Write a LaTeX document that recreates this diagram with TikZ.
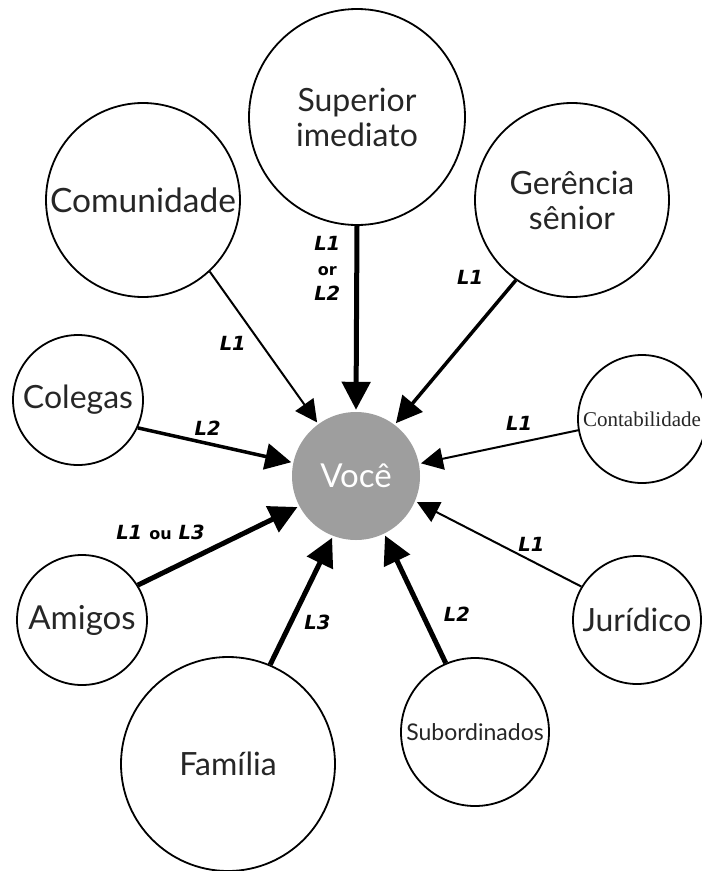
\documentclass[tikz,border=0pt]{standalone}
\usepackage{fontspec}
\setmainfont{Lato}
\newfontfamily\contabfont{Liberation Serif}
\newfontfamily\nivelfont{DejaVu Sans}
\usetikzlibrary{arrows.meta}
\definecolor{vocegray}{RGB}{158,158,158}
\newcommand{\conj}[1]{{\upshape\fontsize{16}{24}\selectfont #1}}
\tikzset{
  pessoa/.style={draw, circle, line width=1.8pt, inner sep=0pt, align=center, text=black!85, font=\fontsize{32}{35}\selectfont},
  voce/.style={circle, fill=vocegray, inner sep=0pt, minimum size=128pt, text=white, font=\fontsize{33}{35}\selectfont},
  linkthin/.style={-{Triangle[length=22pt,width=22pt]}, line width=2pt, shorten >=2pt},
  linkmid/.style={-{Triangle[length=26pt,width=26pt]}, line width=3.5pt, shorten >=2pt},
  linkbold/.style={-{Triangle[length=28pt,width=28pt]}, line width=5pt, shorten >=2pt},
  nivel/.style={font=\nivelfont\bfseries\itshape\fontsize{19.5}{25}\selectfont, inner sep=1pt, align=center}
}

\begin{document}
\begin{tikzpicture}[x=1pt, y=-1pt]
  \useasboundingbox (0,0) rectangle (702,871);
  \node[voce] (voce) at (356,476) {Você};
  \node[pessoa, minimum size=216pt] (superior) at (357,117) {Superior\\imediato};
  \node[pessoa, minimum size=194pt, font=\fontsize{33.5}{35}\selectfont] (comunidade) at (143,200) {Comunidade};
  \node[pessoa, minimum size=194pt] (gerencia) at (572,200) {Gerência\\sênior};
  \node[pessoa, minimum size=130pt] (colegas) at (78,400) {Colegas};
  \node[pessoa, minimum size=128pt, font=\contabfont\fontsize{21}{24}\selectfont] (contabilidade) at (642,419) {Contabilidade};
  \node[pessoa, minimum size=130pt, font=\fontsize{33}{35}\selectfont] (amigos) at (82,620) {Amigos};
  \node[pessoa, minimum size=128pt] (juridico) at (637,620) {Jurídico};
  \node[pessoa, minimum size=214pt] (familia) at (228,764) {Família};
  \node[pessoa, minimum size=148pt, font=\fontsize{23}{26}\selectfont] (subordinados) at (475,732) {Subordinados};

  \draw[linkbold] (superior.-90) -- node[nivel, pos=.23, left=13pt] {L1\\\conj{or}\\L2} (voce.90);
  \draw[linkthin] (comunidade.-47) -- node[nivel, pos=.47, left=13pt] {L1} (voce.126);
  \draw[linkmid] (gerencia.-125) -- node[nivel, pos=.14, left=13pt, yshift=23pt] {L1} (voce.53);
  \draw[linkmid] (colegas.-25) -- node[nivel, pos=.45, above=5pt] {L2} (voce.168);
  \draw[linkthin] (contabilidade.190) -- node[nivel, pos=.37, above=10pt] {L1} (voce.11);
  \draw[linkthin] (juridico.149.5) -- node[nivel, pos=.3, above=7pt] {L1} (voce.-23.5);
  \draw[linkbold] (amigos.32) -- node[nivel, pos=.14, above=31pt] {L1\hspace{7pt}\conj{ou}\hspace{7pt}L3} (voce.-152);
  \draw[linkbold] (familia.67.4) -- node[nivel, pos=.33, right=10pt] {L3} (voce.-111);
  \draw[linkbold] (subordinados.113) -- node[nivel, pos=.38, right=18pt] {L2} (voce.-64);
\end{tikzpicture}
\end{document}
